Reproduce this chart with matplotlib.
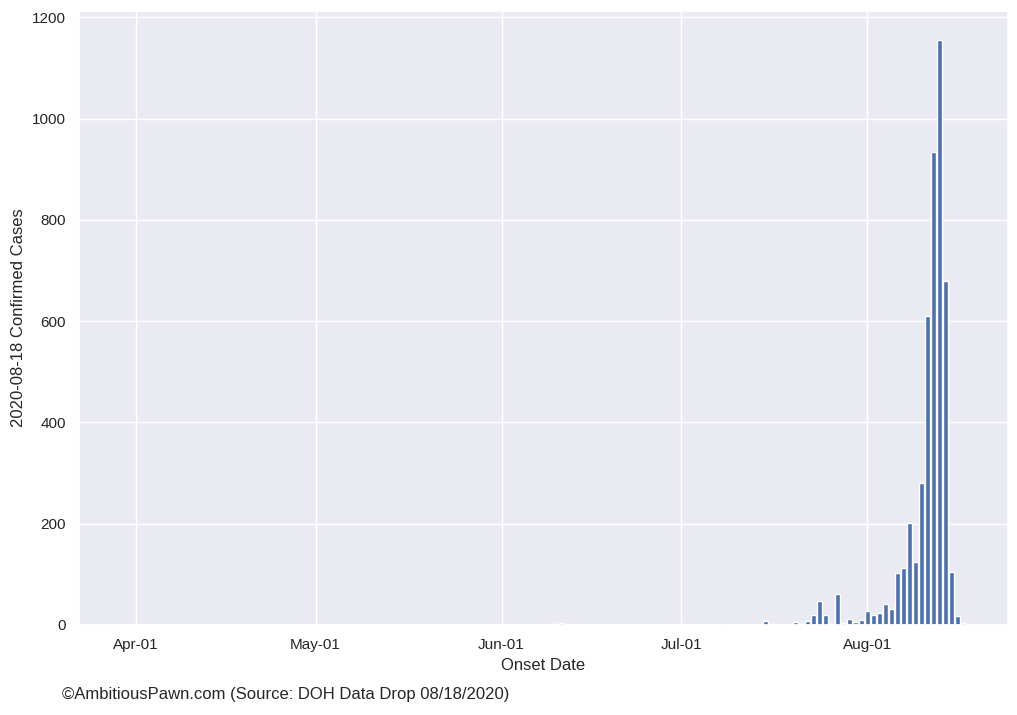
import datetime as dt

import matplotlib
matplotlib.use("Agg")
import matplotlib.pyplot as plt
import matplotlib.dates as mdates
import seaborn as sns

# daily onset counts, 2020-03-30 .. 2020-08-17
start = dt.date(2020, 3, 30)
mar_cases = [1, 0]
apr_cases = [1, 0, 1, 0, 0, 1, 1, 0, 1, 1, 0, 0, 1, 1, 0,
             1, 0, 0, 1, 0, 1, 1, 0, 0, 1, 0, 1, 0, 0, 1]
may_cases = [1, 0, 1, 1, 0, 0, 1, 0, 1, 0, 1, 1, 0, 1, 0, 0,
             1, 0, 1, 1, 0, 0, 1, 0, 1, 0, 0, 1, 1, 0, 1]
jun_cases = [0, 1, 1, 0, 1, 0, 1, 0, 1, 1, 3, 1, 0, 0, 1,
             0, 1, 0, 0, 1, 1, 0, 1, 0, 1, 0, 1, 1, 0, 1]
jul_cases = [2, 0, 2, 0, 2, 0, 0, 0, 0, 2, 2, 0, 2, 2, 7, 1,
             1, 1, 1, 6, 2, 8, 20, 48, 20, 1, 61, 3, 12, 6, 9]
aug_cases = [28, 19, 24, 42, 32, 102, 113, 202, 124, 281, 610,
             934, 1155, 680, 104, 17, 3]

cases = mar_cases + apr_cases + may_cases + jun_cases + jul_cases + aug_cases
dates = [start + dt.timedelta(days=i) for i in range(len(cases))]

sns.set_theme()
plt.rcParams["font.family"] = ["Liberation Sans", "DejaVu Sans"]

fig = plt.figure(figsize=(10.17, 7.15), dpi=100)
ax = fig.add_axes([79 / 1017, 90 / 715, 929 / 1017, 614 / 715])

ax.bar(dates, cases)
ax.xaxis.set_major_locator(mdates.MonthLocator())
ax.xaxis.set_major_formatter(mdates.DateFormatter("%b-%d"))

ax.set_xlabel("Onset Date")
ax.set_ylabel("2020-08-18 Confirmed Cases")

fig.text(62 / 1017, 20 / 715, "\u00a9AmbitiousPawn.com (Source: DOH Data Drop 08/18/2020)",
         fontsize=12, va="center", ha="left")

fig.savefig("out.png", dpi=100)
